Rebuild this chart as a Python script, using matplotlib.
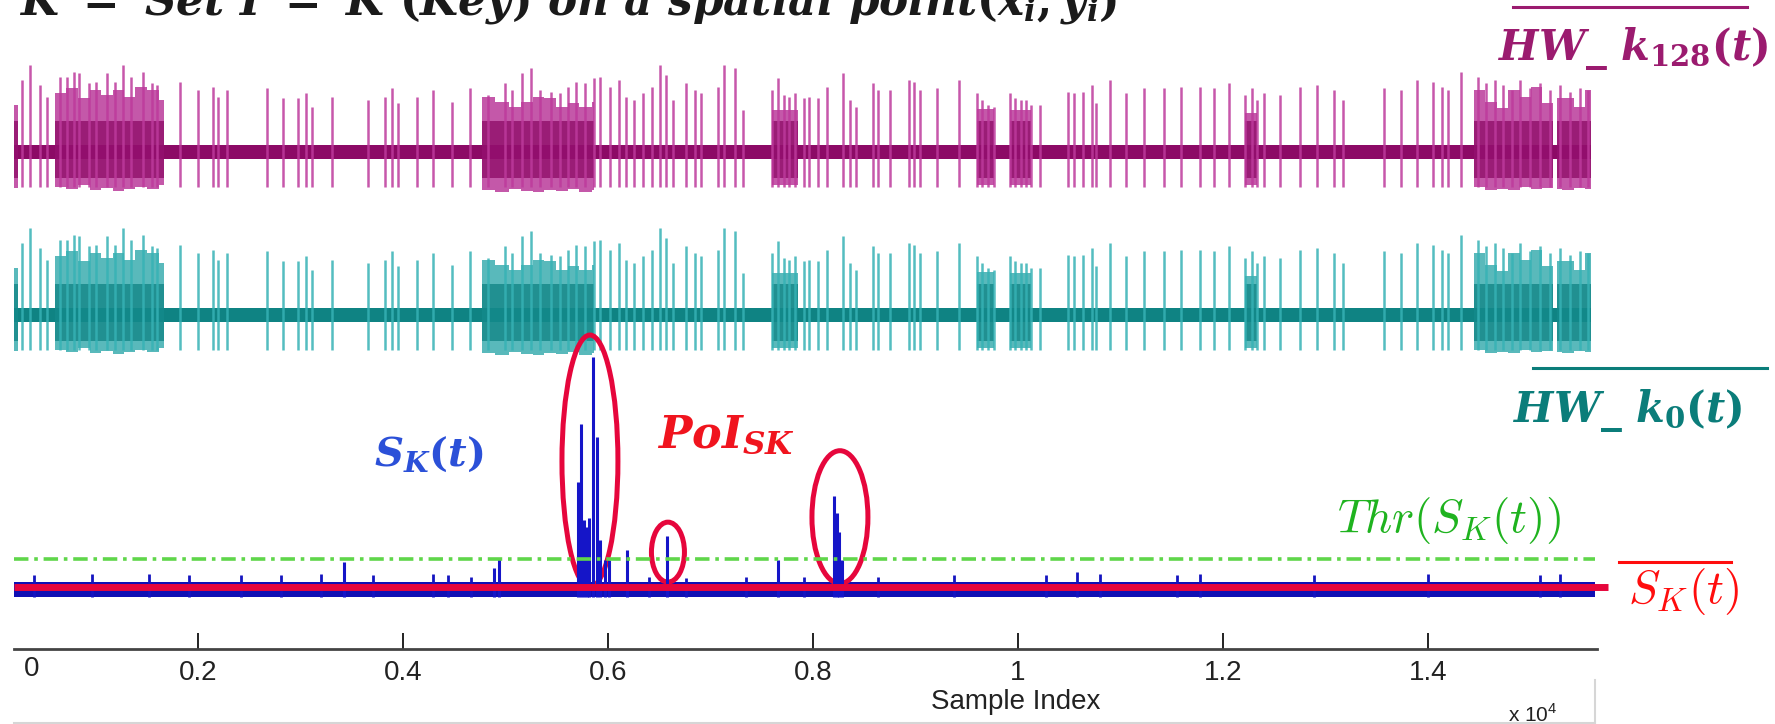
import numpy as np
import matplotlib
matplotlib.use("Agg")
import matplotlib.pyplot as plt
from matplotlib.patches import Ellipse
from matplotlib.lines import Line2D

# ---- data (sample index, amplitude in arbitrary units) ----
# the two Hamming-weight traces look alike, so they share one set of spikes
hw_start, hw_end = 166, 15590
hw_band = 0.085         # half thickness of the quiet baseline
hw_depth = 0.40         # how far spikes go below the baseline
hw_core_top, hw_core_bot = 0.36, 0.30

hw_spike_x = [166, 283, 361, 459, 527, 654, 722, 790, 839, 937, 1005, 1112, 1190,
              1268, 1346, 1463, 1551, 1600, 1824, 2000, 2146, 2195, 2283, 2673,
              2829, 2976, 3054, 3112, 3307, 3659, 3824, 3893, 3951, 4137, 4293,
              4478, 4654, 4829, 4995, 5063, 5161, 5249, 5337, 5444, 5532, 5610,
              5688, 5776, 5863, 5922, 6020, 6107, 6176, 6254, 6341, 6429, 6507,
              6566, 6634, 6761, 6849, 6907, 7073, 7132, 7239, 7317, 7600, 7659,
              7717, 7766, 7824, 7912, 7961, 8049, 8137, 8293, 8361, 8420, 8585,
              8634, 8751, 8937, 8985, 9044, 9210, 9424, 9600, 9649, 9707, 9766,
              9922, 9971, 10029, 10078, 10127, 10215, 10488, 10546, 10634, 10722,
              10761, 10898, 11054, 11229, 11424, 11590, 11776, 11912, 12059, 12215,
              12283, 12332, 12400, 12556, 12751, 12917, 13083, 13171, 13571, 13737,
              13893, 14049, 14137, 14195, 14322, 14488, 14566, 14654, 14732, 14820,
              14898, 14995, 15093, 15190, 15288, 15385, 15483, 15561]
hw_spike_up = [1.00, 0.83, 1.00, 0.77, 0.63, 0.86, 0.86, 0.92, 0.91, 0.79, 0.80, 0.91,
               0.80, 1.00, 0.86, 0.92, 0.79, 0.77, 0.80, 0.71, 0.75, 0.63, 0.71, 0.74,
               0.62, 0.62, 0.68, 0.52, 0.63, 0.60, 0.63, 0.74, 0.56, 0.63, 0.71, 0.57,
               0.74, 0.66, 0.79, 0.71, 0.91, 0.97, 0.71, 0.69, 0.68, 0.75, 0.80, 0.79,
               0.85, 0.86, 0.75, 0.83, 0.63, 0.60, 0.68, 0.75, 1.00, 0.89, 0.60, 0.79,
               0.71, 0.68, 0.75, 1.00, 0.97, 0.48, 0.71, 0.85, 0.66, 0.63, 0.68, 0.62,
               0.63, 0.62, 0.75, 0.91, 0.60, 0.52, 0.79, 0.71, 0.71, 0.83, 0.80, 0.71,
               0.74, 0.83, 0.68, 0.60, 0.54, 0.52, 0.68, 0.62, 0.60, 0.60, 0.54, 0.54,
               0.69, 0.68, 0.69, 0.77, 0.56, 0.83, 0.68, 0.74, 0.74, 0.75, 0.75, 0.74,
               0.79, 0.66, 0.74, 0.60, 0.68, 0.66, 0.75, 0.77, 0.71, 0.60, 0.74, 0.71,
               0.83, 0.80, 0.75, 0.71, 0.92, 0.86, 0.79, 0.83, 0.77, 0.71, 0.83, 0.74,
               0.79, 0.71, 0.77, 0.69, 0.74, 0.71]

# dense bursts, as stepped envelopes (x, top, bottom)
burst1_x = [605, 717, 830, 942, 1054, 1166, 1278, 1390, 1503, 1615, 1668]
burst1_top = [0.68, 0.74, 0.62, 0.71, 0.65, 0.71, 0.63, 0.75, 0.71, 0.60, 0.60]
burst1_bot = [0.40, 0.43, 0.38, 0.44, 0.41, 0.45, 0.42, 0.40, 0.43, 0.38, 0.38]
burst2_x = [4770, 4900, 5030, 5150, 5270, 5380, 5490, 5610, 5720, 5840, 5863]
burst2_top = [0.63, 0.57, 0.52, 0.57, 0.63, 0.62, 0.52, 0.56, 0.52, 0.57, 0.57]
burst2_bot = [0.44, 0.46, 0.43, 0.45, 0.46, 0.44, 0.45, 0.43, 0.46, 0.44, 0.44]
burst3_x = [14450, 14556, 14673, 14781, 14898, 15005, 15112, 15220]
burst3_top = [0.71, 0.57, 0.51, 0.71, 0.63, 0.75, 0.56, 0.56]
burst3_bot = [0.40, 0.44, 0.42, 0.44, 0.40, 0.43, 0.41, 0.41]
burst4_x = [15260, 15307, 15424, 15532, 15590]
burst4_top = [0.62, 0.62, 0.52, 0.71, 0.71]
burst4_bot = [0.42, 0.44, 0.41, 0.43, 0.43]
# small clusters: start, end, top, bottom
cluster_start = [166, 7600, 9600, 9922, 12215]
cluster_end = [244, 7854, 9766, 10127, 12332]
cluster_top = [0.54, 0.48, 0.50, 0.48, 0.45]
cluster_bot = [0.41, 0.38, 0.38, 0.38, 0.38]

# S_K(t) statistic
sk_start, sk_end = 205, 15630
sk_band_lo, sk_band_hi = 0.160, 0.208
sk_mean = 0.191
sk_thr = 0.278
sk_peak_x = [3424, 4888, 4937, 5707, 5737, 5766, 5795, 5815, 5854, 5893, 5922, 5971,
             6010, 6185, 6576, 7659, 8205, 8234, 8254, 8283]
sk_peak_v = [0.269, 0.250, 0.281, 0.515, 0.694, 0.398, 0.377, 0.404, 0.901, 0.654,
             0.336, 0.275, 0.275, 0.306, 0.349, 0.275, 0.472, 0.420, 0.361, 0.275]
sk_bump_x = [400, 966, 1522, 1912, 2419, 2810, 3200, 3707, 4293, 4439, 4663, 6400,
             6761, 7346, 7912, 8634, 9376, 10273, 10576, 10800, 11551, 11776, 12888,
             14000, 15093, 15288]
sk_bump_v = [0.228, 0.232, 0.232, 0.228, 0.228, 0.228, 0.232, 0.228, 0.232, 0.228,
             0.222, 0.222, 0.219, 0.222, 0.222, 0.222, 0.228, 0.228, 0.238, 0.232,
             0.228, 0.232, 0.228, 0.232, 0.228, 0.232]

tick_vals = [0.2, 0.4, 0.6, 0.8, 1.0, 1.2, 1.4]
tick_labels = ["0.2", "0.4", "0.6", "0.8", "1", "1.2", "1.4"]

# ---- figure ----
W, H = 1775, 724
def fx(px):
    return px / W
def fy(py):
    return 1 - py / H

plt.rcParams["font.family"] = ["Liberation Sans", "DejaVu Sans"]
plt.rcParams["mathtext.fontset"] = "custom"
plt.rcParams["mathtext.it"] = "DejaVu Serif:italic:bold"
plt.rcParams["mathtext.rm"] = "DejaVu Serif:bold"
plt.rcParams["mathtext.bf"] = "DejaVu Serif:bold"

fig = plt.figure(figsize=(W / 100, H / 100), dpi=100)
XMIN, XMAX = 0.0205, 1.5649


def make_axes(top_px, bot_px, z=1):
    ax = fig.add_axes([fx(14), fy(bot_px), fx(1597) - fx(14), (bot_px - top_px) / H])
    ax.set_xlim(XMIN, XMAX)
    ax.set_zorder(z)
    ax.patch.set_alpha(0)
    return ax


def draw_hw(ax, c_spike, c_burst, c_band):
    ax.fill_between([hw_start / 1e4, hw_end / 1e4], -hw_band, hw_band, color=c_band, lw=0)
    envs = [(burst1_x, burst1_top, burst1_bot), (burst2_x, burst2_top, burst2_bot),
            (burst3_x, burst3_top, burst3_bot), (burst4_x, burst4_top, burst4_bot)]
    for s, e, t, b in zip(cluster_start, cluster_end, cluster_top, cluster_bot):
        envs.append(([s, e], [t, t], [b, b]))
    for xs, tops, bots in envs:
        xs = np.array(xs) / 1e4
        ax.fill_between(xs, -np.array(bots), tops, step="post", color=c_burst,
                        alpha=0.75, lw=0)
        ax.fill_between([xs[0], xs[-1]], -hw_core_bot, hw_core_top, color=c_band,
                        alpha=0.75, lw=0)
    ax.vlines(np.array(hw_spike_x) / 1e4, -hw_depth, hw_spike_up, colors=c_spike,
              lw=1.8, alpha=0.85)
    ax.set_ylim(-0.6, 1.05)
    ax.axis("off")


ax1 = make_axes(60.7, 204.2)
draw_hw(ax1, "#bd3a9c", "#b0208c", "#8c0a66")
ax2 = make_axes(223.7, 367.2)
draw_hw(ax2, "#36b2b5", "#22a2a4", "#0f8383")

# S_K panel with the x axis
ax3 = make_axes(325, 649, z=3)
ax3.set_ylim(0, 1)
ax3.fill_between([sk_start / 1e4, sk_end / 1e4], sk_band_lo, sk_band_hi, color="#1010b4", lw=0)
ax3.vlines(np.array(sk_bump_x) / 1e4, sk_band_lo, sk_bump_v, colors="#1414c0", lw=2)
ax3.vlines(np.array(sk_peak_x) / 1e4, sk_band_lo, sk_peak_v, colors="#1515c8", lw=2.2)
ax3.plot([XMIN, sk_end / 1e4], [sk_thr, sk_thr], color="#5fd64a", lw=2.6,
         ls=(0, (4, 1.6, 1, 1.6)))
ax3.plot([XMIN, 1.5756], [sk_mean, sk_mean], color="#e6063c", lw=5, clip_on=False,
         solid_capstyle="butt")

for cx, cy, w, h in [(0.5824, 0.580, 0.0546, 0.778), (0.6585, 0.299, 0.0322, 0.185),
                     (0.8263, 0.407, 0.0546, 0.410)]:
    ax3.add_patch(Ellipse((cx, cy), w, h, fill=False, ec="#e6063c", lw=3.6, clip_on=False))

for side in ["left", "right", "top"]:
    ax3.spines[side].set_visible(False)
ax3.spines["bottom"].set_color("#444444")
ax3.spines["bottom"].set_linewidth(2)
ax3.set_yticks([])
ax3.set_xticks(tick_vals)
ax3.set_xticklabels(tick_labels)
ax3.tick_params(axis="x", direction="in", length=11.5, width=1.4, color="#222222",
                labelsize=20, labelcolor="#222222", pad=8)
fig.text(fx(32), fy(669), "0", ha="center", va="center", fontsize=20, color="#222222")
fig.text(fx(1016), fy(702), "Sample Index", ha="center", va="center", fontsize=20,
         color="#222222")
fig.text(fx(1508), fy(722), r"x 10$^{\mathregular{4}}$", ha="left", va="baseline",
         fontsize=15, color="#222222", math_fontfamily="dejavusans")

# light frame edges of the pasted plot
fig.add_artist(Line2D([fx(14), fx(1595)], [fy(723), fy(723)], transform=fig.transFigure,
                      color="#d6d6d6", lw=1.5))
fig.add_artist(Line2D([fx(1595), fx(1595)], [fy(680), fy(724)], transform=fig.transFigure,
                      color="#d6d6d6", lw=1.5))

# ---- labels ----
# the heading is cut by the top edge in the original, only its lower half shows
fig.text(fx(19), fy(15), r"$K\ =\ Set\ I\ =\ K\ (Key)\ on\ a\ spatial\ point(x_i,y_i)$",
         fontsize=31.5, color="#1a1a1a", va="baseline")

fig.text(fx(1498), fy(60), r"$HW\_\ k_{128}(t)$", fontsize=30, color="#9b1b6f", va="baseline")
fig.add_artist(Line2D([fx(1513), fx(1747)], [fy(7), fy(7)], transform=fig.transFigure,
                      color="#9b1b6f", lw=2.2))
fig.text(fx(1513), fy(422), r"$HW\_\ k_{0}(t)$", fontsize=30, color="#0b7d7a", va="baseline")
fig.add_artist(Line2D([fx(1533), fx(1767)], [fy(368), fy(368)], transform=fig.transFigure,
                      color="#0b7d7a", lw=2.2))

fig.text(fx(1337), fy(532), r"$Thr(S_K(t))$", fontsize=34, color="#1fb31f", va="baseline",
         math_fontfamily="cm")
fig.text(fx(1628), fy(603), r"$S_K(t)$", fontsize=34, color="#ff0d0d", va="baseline",
         math_fontfamily="cm")
fig.add_artist(Line2D([fx(1619), fx(1731)], [fy(562), fy(562)], transform=fig.transFigure,
                      color="#ff0d0d", lw=2.2))
fig.text(fx(374), fy(466), r"$S_K(t)$", fontsize=29, color="#2b50d8", va="baseline")
fig.text(fx(657), fy(448), r"$PoI_{SK}$", fontsize=32, color="#f0141e", va="baseline")

fig.savefig("out.png", dpi=100)
